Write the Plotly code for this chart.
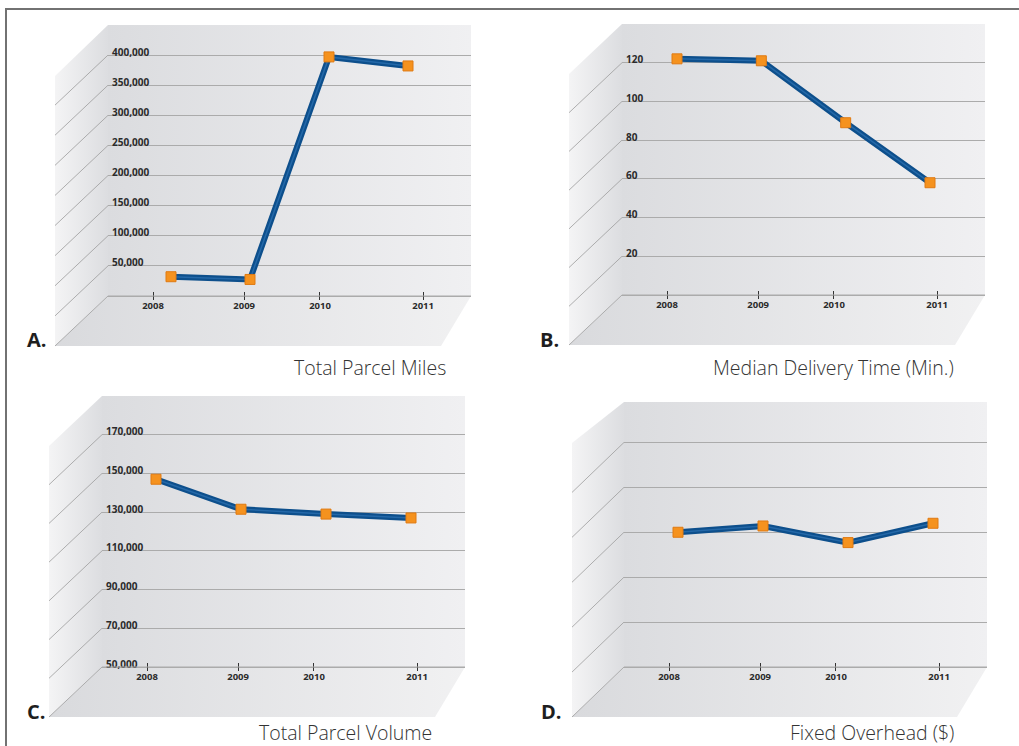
import plotly.graph_objects as go

W, H = 1019, 746

# ---- data -------------------------------------------------------------
years = [2008, 2009, 2010, 2011]
year_labels = ["2008", "2009", "2010", "2011"]

parcel_miles = [32000, 27500, 397000, 382000]
delivery_minutes = [122, 121, 89, 58]
parcel_volume = [147000, 131500, 129000, 127000]
fixed_overhead = [3.0, 3.14, 2.77, 3.2]  # unlabelled scale, one unit per gridline

miles_ticks = [0, 50000, 100000, 150000, 200000, 250000, 300000, 350000, 400000]
miles_labels = ["", "50,000", "100,000", "150,000", "200,000", "250,000",
                "300,000", "350,000", "400,000"]
minutes_ticks = [0, 20, 40, 60, 80, 100, 120]
minutes_labels = ["", "20", "40", "60", "80", "100", "120"]
volume_ticks = [50000, 70000, 90000, 110000, 130000, 150000, 170000]
volume_labels = ["50,000", "70,000", "90,000", "110,000", "130,000",
                 "150,000", "170,000"]
overhead_ticks = [0, 1, 2, 3, 4, 5]
overhead_labels = ["", "", "", "", "", ""]

titles = ["Total Parcel Miles", "Median Delivery Time (Min.)",
          "Total Parcel Volume", "Fixed Overhead ($)"]
letters = ["A.", "B.", "C.", "D."]

# ---- panel geometry (pixels) -----------------------------------------
# wall = (left, right, top, floor) of the back wall; side = x of the
# left wall's outer edge and y of its top corner; marks = pixel x of the
# first and last year, which fixes the horizontal scale.
panels = [
    dict(values=parcel_miles, yrange=[0, 450000], ticks=miles_ticks, labels=miles_labels,
         wall=(108, 471, 25, 296), side=(55, 76), marks=(171, 408),
         title_xy=(448, 367), letter_xy=(25, 339)),
    dict(values=delivery_minutes, yrange=[0, 140], ticks=minutes_ticks, labels=minutes_labels,
         wall=(622, 985, 24, 295), side=(569, 74), marks=(677, 930),
         title_xy=(956, 367), letter_xy=(538, 339)),
    dict(values=parcel_volume, yrange=[50000, 190000], ticks=volume_ticks, labels=volume_labels,
         wall=(102, 465, 396, 667), side=(49, 446), marks=(156, 411),
         title_xy=(434, 732), letter_xy=(25, 711)),
    dict(values=fixed_overhead, yrange=[0, 5.9], ticks=overhead_ticks, labels=overhead_labels,
         wall=(624, 987, 402, 667), side=(572, 443), marks=(678, 933),
         title_xy=(956, 732), letter_xy=(539, 711)),
]

TICK_FRACS = [0.124, 0.375, 0.584, 0.868]  # year tick marks across the wall
DEPTH_Y = 50          # vertical depth of floor / side wall
FLOOR_RIGHT_INSET = 30
PAD_BELOW = 8         # plot area reaches a little under the floor line

BACK_SCALE = [[0, "#dbdcdf"], [1, "#f0f0f2"]]
SIDE_SCALE = [[0, "#f4f4f5"], [1, "#dcdde0"]]
FLOOR_SCALE = [[0, "#d9dadd"], [1, "#f1f1f2"]]
GRID = "#ababab"
TEXT = "#2b2b2b"
LINE_BLUE = "#0d4f8c"
LINE_HI = "#2468a8"
ORANGE = "#f5921e"

fig = go.Figure()


def px(x):
    return x / W


def py(y):
    return 1 - y / H


shapes = []
annotations = []

# full-canvas axes used to paint the walls underneath the charts
fig.update_layout(
    xaxis=dict(domain=[0, 1], range=[0, W], visible=False, fixedrange=True),
    yaxis=dict(domain=[0, 1], range=[H, 0], visible=False, fixedrange=True),
)


def add_poly(pts, scale):
    xs = [p[0] for p in pts] + [pts[0][0]]
    ys = [p[1] for p in pts] + [pts[0][1]]
    fig.add_trace(go.Scatter(
        x=xs, y=ys, xaxis="x", yaxis="y", mode="lines", line=dict(width=0),
        fill="toself", fillgradient=dict(type="horizontal", colorscale=scale),
        hoverinfo="skip", showlegend=False))


for i, p in enumerate(panels):
    L, R, T, B = p["wall"]
    SX, STY = p["side"]
    y0, y1 = p["yrange"]

    # walls
    add_poly([(L, T), (R, T), (R, B), (L, B)], BACK_SCALE)
    add_poly([(SX, STY), (L, T), (L, B), (SX, B + DEPTH_Y)], SIDE_SCALE)
    add_poly([(SX, B + DEPTH_Y), (L, B), (R, B), (R - FLOOR_RIGHT_INSET, B + DEPTH_Y)], FLOOR_SCALE)

    # gridline continuation across the side wall, plus the floor edge
    for v in p["ticks"]:
        gy = B - (v - y0) / (y1 - y0) * (B - T)
        shapes.append(dict(type="line", xref="paper", yref="paper",
                           x0=px(L), y0=py(gy), x1=px(SX), y1=py(gy + DEPTH_Y),
                           line=dict(color="#9c9c9c", width=0.8)))
    shapes.append(dict(type="line", xref="paper", yref="paper",
                       x0=px(L), y0=py(B), x1=px(R), y1=py(B),
                       line=dict(color=GRID, width=1)))

    # horizontal scale from the year markers
    m0, m3 = p["marks"]
    k = (m3 - m0) / (years[-1] - years[0])
    r0 = years[0] - (m0 - L) / k
    r1 = years[-1] + (R - m3) / k
    tickvals = [r0 + f * (r1 - r0) for f in TICK_FRACS]

    # vertical scale: floor value sits on the floor line, area padded below
    per_px = (y1 - y0) / (B - T)
    y_lo = y0 - PAD_BELOW * per_px

    n = i + 2
    xa, ya = f"xaxis{n}", f"yaxis{n}"
    fig.update_layout(**{
        xa: dict(domain=[px(L), px(R)], range=[r0, r1], anchor="free",
                 position=py(B - 5), showgrid=False, zeroline=False, showline=False,
                 tickmode="array", tickvals=tickvals, ticktext=year_labels,
                 ticks="outside", ticklen=8, tickcolor="#333333", tickwidth=1,
                 ticklabelstandoff=-2,
                 tickfont=dict(family="Open Sans", size=9.5, color=TEXT, weight="bold"),
                 fixedrange=True),
        ya: dict(domain=[py(B + PAD_BELOW), py(T)], range=[y_lo, y1], anchor=f"x{n}",
                 showgrid=True, gridcolor=GRID, gridwidth=1, zeroline=False,
                 showline=False, tickmode="array", tickvals=p["ticks"],
                 ticktext=p["labels"], ticks="", ticklabelposition="inside",
                 ticklabelshift=-3, ticklabelstandoff=1,
                 tickfont=dict(family="Open Sans", size=10, color=TEXT, weight="bold"),
                 fixedrange=True),
    })

    # series: ribbon line + highlight + square markers
    fig.add_trace(go.Scatter(x=years, y=p["values"], xaxis=f"x{n}", yaxis=f"y{n}",
                             mode="lines", line=dict(color=LINE_BLUE, width=6),
                             hoverinfo="skip", showlegend=False))
    fig.add_trace(go.Scatter(x=years, y=p["values"], xaxis=f"x{n}", yaxis=f"y{n}",
                             mode="lines", line=dict(color=LINE_HI, width=1.5),
                             hoverinfo="skip", showlegend=False))
    fig.add_trace(go.Scatter(x=years, y=p["values"], xaxis=f"x{n}", yaxis=f"y{n}",
                             mode="markers",
                             marker=dict(symbol="square", size=10, color=ORANGE,
                                         line=dict(width=1, color="#e07a12")),
                             hoverinfo="skip", showlegend=False))

    tx, ty = p["title_xy"]
    annotations.append(dict(text=titles[i], xref="paper", yref="paper",
                            x=px(tx), y=py(ty), xanchor="right", yanchor="middle",
                            showarrow=False,
                            font=dict(family="Open Sans", size=19.5, color="#333333", weight=300)))
    lx, ly = p["letter_xy"]
    annotations.append(dict(text=letters[i], xref="paper", yref="paper",
                            x=px(lx), y=py(ly), xanchor="left", yanchor="middle",
                            showarrow=False,
                            font=dict(family="Open Sans", size=20, color="#1e1e1e", weight="bold")))

# outer frame (top and left edges)
shapes.append(dict(type="line", xref="paper", yref="paper",
                   x0=px(5), y0=py(9), x1=1, y1=py(9), line=dict(color="#727272", width=2)))
shapes.append(dict(type="line", xref="paper", yref="paper",
                   x0=px(6), y0=py(8), x1=px(6), y1=0, line=dict(color="#727272", width=2)))

fig.update_layout(
    width=W, height=H, margin=dict(l=0, r=0, t=0, b=0),
    paper_bgcolor="white", plot_bgcolor="rgba(0,0,0,0)",
    shapes=shapes, annotations=annotations, showlegend=False,
)

fig.write_html("out.html")
